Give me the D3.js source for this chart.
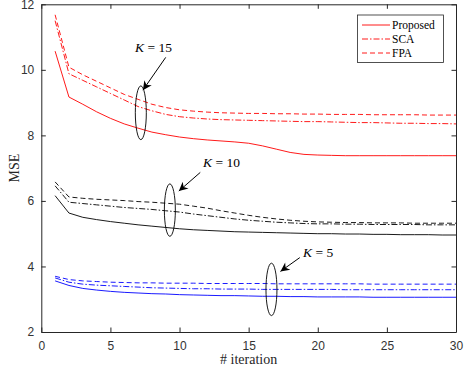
<!DOCTYPE html>
<html>
<head>
<meta charset="utf-8">
<script src="https://cdn.jsdelivr.net/npm/d3@7"></script>
<style>
  body { margin: 0; background: #fff; }
  .tick text { font-family: "Liberation Sans", Arial, sans-serif; font-size: 12px; fill: #333; }
</style>
</head>
<body>
<div id="chart"></div>
<script>
"use strict";

var iterations = d3.range(1, 31);

// K = 15 (red)
var propK15 = [10.57, 9.17, 8.95, 8.72, 8.52, 8.35, 8.22, 8.10, 8.02, 7.95, 7.90, 7.86, 7.83, 7.80, 7.76,
               7.68, 7.58, 7.48, 7.42, 7.40, 7.39, 7.38, 7.38, 7.38, 7.38, 7.38, 7.38, 7.38, 7.38, 7.38];
var scaK15  = [11.50, 9.88, 9.68, 9.48, 9.28, 9.08, 8.88, 8.75, 8.64, 8.57, 8.53, 8.50, 8.48, 8.47, 8.46,
               8.45, 8.44, 8.43, 8.42, 8.42, 8.41, 8.40, 8.39, 8.39, 8.38, 8.37, 8.37, 8.36, 8.36, 8.35];
var fpaK15  = [11.68, 10.08, 9.85, 9.65, 9.45, 9.25, 9.10, 8.95, 8.85, 8.78, 8.74, 8.71, 8.69, 8.68, 8.67,
               8.67, 8.66, 8.66, 8.65, 8.65, 8.64, 8.64, 8.64, 8.63, 8.63, 8.63, 8.63, 8.62, 8.62, 8.62];

// K = 10 (black)
var propK10 = [6.16, 5.63, 5.50, 5.43, 5.37, 5.32, 5.27, 5.23, 5.19, 5.15, 5.12, 5.10, 5.08, 5.06, 5.05,
               5.04, 5.03, 5.02, 5.01, 5.00, 5.00, 4.99, 4.99, 4.98, 4.98, 4.97, 4.97, 4.97, 4.96, 4.96];
var scaK10  = [6.46, 5.96, 5.92, 5.88, 5.84, 5.80, 5.77, 5.74, 5.70, 5.66, 5.60, 5.55, 5.50, 5.45, 5.41,
               5.38, 5.35, 5.33, 5.31, 5.30, 5.30, 5.29, 5.29, 5.28, 5.28, 5.28, 5.28, 5.27, 5.27, 5.27];
var fpaK10  = [6.58, 6.12, 6.08, 6.05, 6.03, 6.01, 5.98, 5.96, 5.93, 5.90, 5.84, 5.78, 5.70, 5.63, 5.56,
               5.50, 5.45, 5.41, 5.38, 5.36, 5.35, 5.34, 5.34, 5.33, 5.33, 5.33, 5.32, 5.32, 5.32, 5.32];

// K = 5 (blue)
var propK5  = [3.56, 3.42, 3.33, 3.28, 3.24, 3.21, 3.19, 3.17, 3.16, 3.14, 3.13, 3.12, 3.11, 3.11, 3.10,
               3.09, 3.09, 3.08, 3.08, 3.07, 3.07, 3.07, 3.07, 3.06, 3.06, 3.06, 3.06, 3.06, 3.06, 3.06];
var scaK5   = [3.65, 3.52, 3.46, 3.43, 3.41, 3.39, 3.37, 3.35, 3.34, 3.33, 3.32, 3.32, 3.31, 3.31, 3.31,
               3.30, 3.30, 3.30, 3.30, 3.30, 3.30, 3.29, 3.29, 3.29, 3.29, 3.29, 3.29, 3.29, 3.29, 3.29];
var fpaK5   = [3.70, 3.60, 3.56, 3.54, 3.52, 3.51, 3.50, 3.50, 3.49, 3.49, 3.49, 3.48, 3.48, 3.48, 3.48,
               3.48, 3.47, 3.47, 3.47, 3.47, 3.47, 3.47, 3.47, 3.46, 3.46, 3.46, 3.46, 3.46, 3.46, 3.46];

var xTicks = [0, 5, 10, 15, 20, 25, 30];
var yTicks = [2, 4, 6, 8, 10, 12];
var legendNames = ["Proposed", "SCA", "FPA"];

var width = 464,
    height = 370,
    margin = {top: 4.3, right: 8, bottom: 38, left: 41.3};

var serif = "'Liberation Serif', 'Times New Roman', serif";

var svg = d3.select("#chart").append("svg")
    .attr("width", width)
    .attr("height", height);

var x = d3.scaleLinear().domain([0, 30]).range([margin.left, width - margin.right]);
var y = d3.scaleLinear().domain([2, 12]).range([height - margin.bottom, margin.top]);

var axisColor = "#262626";

function styleAxis(g){
  g.select(".domain").attr("stroke", axisColor);
  g.selectAll("line").attr("stroke", axisColor);
}

// axes with inward ticks, box
svg.append("g")
    .attr("transform", "translate(0," + y(2) + ")")
    .call(d3.axisBottom(x).tickValues(xTicks).tickSizeInner(-4.5).tickSizeOuter(0).tickPadding(9))
    .call(styleAxis);

svg.append("g")
    .attr("transform", "translate(" + x(0) + ",0)")
    .call(d3.axisLeft(y).tickValues(yTicks).tickSizeInner(-4.5).tickSizeOuter(0).tickPadding(7))
    .call(styleAxis);

svg.append("g")
    .attr("transform", "translate(0," + y(12) + ")")
    .call(d3.axisTop(x).tickValues(xTicks).tickSizeInner(-4.5).tickSizeOuter(0).tickFormat(""))
    .call(styleAxis);

svg.append("g")
    .attr("transform", "translate(" + x(30) + ",0)")
    .call(d3.axisRight(y).tickValues(yTicks).tickSizeInner(-4.5).tickSizeOuter(0).tickFormat(""))
    .call(styleAxis);

// series
var dashStyle = {prop: null, sca: "6,2,1.5,2", fpa: "5,3"};
var series = [
  {vals: propK15, color: "#ff0000", dash: dashStyle.prop},
  {vals: scaK15,  color: "#ff0000", dash: dashStyle.sca},
  {vals: fpaK15,  color: "#ff0000", dash: dashStyle.fpa},
  {vals: propK10, color: "#000000", dash: dashStyle.prop},
  {vals: scaK10,  color: "#000000", dash: dashStyle.sca},
  {vals: fpaK10,  color: "#000000", dash: dashStyle.fpa},
  {vals: propK5,  color: "#0000ff", dash: dashStyle.prop},
  {vals: scaK5,   color: "#0000ff", dash: dashStyle.sca},
  {vals: fpaK5,   color: "#0000ff", dash: dashStyle.fpa}
];

var line = d3.line()
    .x(function(d, i){ return x(iterations[i]); })
    .y(function(d){ return y(d); });

svg.append("g")
    .selectAll("path")
    .data(series)
    .enter().append("path")
        .attr("d", function(d){ return line(d.vals); })
        .attr("fill", "none")
        .attr("stroke", function(d){ return d.color; })
        .attr("stroke-width", 0.9)
        .attr("stroke-dasharray", function(d){ return d.dash; });

// annotations: ellipse + arrow + label
var notes = [
  {k: "15", cx: 7.2,  cy: 8.69, ry: 0.82, tip: [7.35, 9.38], from: [9.0, 10.38], tx: 135, ty: 52},
  {k: "10", cx: 9.3,  cy: 5.72, ry: 0.80, tip: [9.95, 6.30], from: [11.5, 6.87], tx: 203, ty: 167},
  {k: "5",  cx: 16.65, cy: 3.30, ry: 0.80, tip: [17.3, 3.85], from: [18.7, 4.27], tx: 303, ty: 257}
];

svg.append("defs").append("marker")
    .attr("id", "arrow")
    .attr("viewBox", "0 0 10 10")
    .attr("refX", 10).attr("refY", 5)
    .attr("markerWidth", 12).attr("markerHeight", 9)
    .attr("markerUnits", "userSpaceOnUse")
    .attr("orient", "auto")
  .append("path")
    .attr("d", "M0,0 L10,5 L0,10 L3,5 Z")
    .attr("fill", "#000");

var ann = svg.append("g");
notes.forEach(function(n){
  ann.append("ellipse")
      .attr("cx", x(n.cx)).attr("cy", y(n.cy))
      .attr("rx", 5.5).attr("ry", y(n.cy - n.ry) - y(n.cy))
      .attr("fill", "none").attr("stroke", "#000").attr("stroke-width", 0.9);
  ann.append("line")
      .attr("x1", x(n.from[0])).attr("y1", y(n.from[1]))
      .attr("x2", x(n.tip[0])).attr("y2", y(n.tip[1]))
      .attr("stroke", "#000").attr("stroke-width", 1)
      .attr("marker-end", "url(#arrow)");
  var t = ann.append("text")
      .attr("font-family", serif)
      .attr("x", n.tx).attr("y", n.ty)
      .attr("font-size", 13.5)
      .attr("xml:space", "preserve");
  t.append("tspan").attr("font-style", "italic").text("K");
  t.append("tspan").text(" = " + n.k);
});

// legend
var lg = svg.append("g");
lg.append("rect")
    .attr("x", 357.5).attr("y", 15)
    .attr("width", 86).attr("height", 47.5)
    .attr("fill", "#fff").attr("stroke", axisColor).attr("stroke-width", 0.8);

lg.selectAll("line")
    .data(legendNames)
    .enter().append("line")
        .attr("x1", 362).attr("x2", 390)
        .attr("y1", function(d, i){ return 25 + i * 14; })
        .attr("y2", function(d, i){ return 25 + i * 14; })
        .attr("stroke", "#ff0000")
        .attr("stroke-width", 0.9)
        .attr("stroke-dasharray", function(d, i){ return [dashStyle.prop, dashStyle.sca, dashStyle.fpa][i]; });

lg.selectAll("text")
    .data(legendNames)
    .enter().append("text")
        .attr("font-family", serif)
        .attr("x", 392)
        .attr("y", function(d, i){ return 25 + i * 14 + 4; })
        .attr("font-size", 11.5)
        .attr("fill", "#000")
        .text(function(d){ return d; });

// axis titles
svg.append("text")
    .attr("font-family", serif)
    .attr("transform", "translate(19," + y(7) + ") rotate(-90)")
    .attr("text-anchor", "middle")
    .attr("font-size", 14)
    .attr("fill", axisColor)
    .text("MSE");

svg.append("text")
    .attr("font-family", serif)
    .attr("x", x(15))
    .attr("y", 364)
    .attr("text-anchor", "middle")
    .attr("font-size", 14)
    .attr("fill", axisColor)
    .text("# iteration");
</script>
</body>
</html>
